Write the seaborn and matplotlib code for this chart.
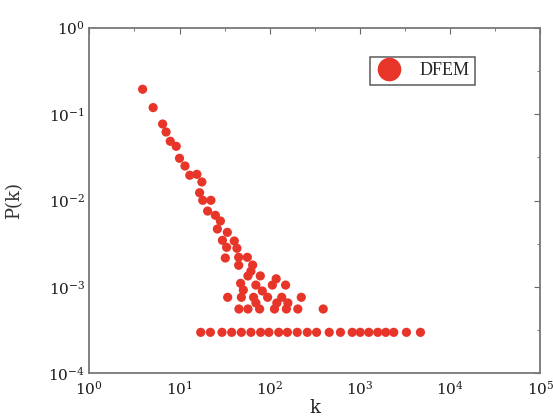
import numpy as np
import pandas as pd
import matplotlib
matplotlib.use("Agg")
import matplotlib.pyplot as plt
import matplotlib.ticker as mticker
import seaborn as sns

# degree k and probability P(k)
k_main = [3.9, 5.1, 6.5, 7.1, 7.9, 9.2, 10.0, 11.5, 13.0, 15.6, 17.7, 16.7,
          18.1, 22.3, 20.5, 25.0, 28.4, 26.3, 33.9, 29.9, 40.5, 33.3, 43.3,
          32.2, 45.3, 56.5, 45.3, 64.7, 61.9, 57.4, 78.7, 118, 47.6, 70.3,
          107, 150, 51.0, 82.8]
p_main = [0.194, 0.119, 0.0768, 0.0621, 0.0485, 0.0424, 0.0308, 0.0251,
          0.0196, 0.0201, 0.0164, 0.0123, 0.01005, 0.01005, 0.00755, 0.00674,
          0.00579, 0.00468, 0.00428, 0.00346, 0.00340, 0.00287, 0.00280,
          0.00216, 0.00220, 0.00220, 0.00178, 0.00179, 0.00152, 0.00134,
          0.00134, 0.00124, 0.00110, 0.00105, 0.00105, 0.00105, 0.00092,
          0.000897]
k_row3 = [34.2, 48.5, 66.3, 94.8, 136, 224]
p_row3 = [0.000758] * 6
k_row2b = [70.3, 120, 159]
p_row2b = [0.000652] * 3
k_row2 = [45.6, 57.4, 77.3, 113, 153, 205, 392]
p_row2 = [0.000555] * 7
k_row1 = [17.2, 22.0, 29.6, 37.9, 48.5, 61.9, 79.3, 98.0, 126, 157, 202,
          261, 331, 457, 609, 822, 1008, 1256, 1578, 1936, 2373, 3281, 4690]
p_row1 = [0.000298] * 23

x_ticks = [1, 10, 100, 1e3, 1e4, 1e5]
y_ticks = [1e-4, 1e-3, 1e-2, 1e-1, 1]

df = pd.DataFrame({
    "k": k_main + k_row3 + k_row2b + k_row2 + k_row1,
    "P": p_main + p_row3 + p_row2b + p_row2 + p_row1,
})
df["series"] = "DFEM"

sns.set_style("white")
plt.rcParams["font.family"] = ["DejaVu Serif"]
plt.rcParams["mathtext.fontset"] = "dejavuserif"

fig = plt.figure(figsize=(5.53, 4.20), dpi=100)
ax = fig.add_axes([0.1615, 0.1112, 0.8155, 0.8228])

red = "#e8352a"
sns.scatterplot(data=df, x="k", y="P", hue="series", palette=[red],
                s=44, edgecolor="none", ax=ax, legend=False)

ax.set_xscale("log")
ax.set_yscale("log")
ax.set_xlim(x_ticks[0], x_ticks[-1])
ax.set_ylim(y_ticks[0], y_ticks[-1])

ax.xaxis.set_major_locator(mticker.FixedLocator(x_ticks))
ax.yaxis.set_major_locator(mticker.FixedLocator(y_ticks))
ax.xaxis.set_minor_locator(mticker.FixedLocator([t * 10 ** 0.5 for t in x_ticks[:-1]]))
ax.yaxis.set_minor_locator(mticker.FixedLocator([t * 10 ** 0.5 for t in y_ticks[:-1]]))
ax.xaxis.set_minor_formatter(mticker.NullFormatter())
ax.yaxis.set_minor_formatter(mticker.NullFormatter())
ax.xaxis.set_major_formatter(mticker.LogFormatterMathtext())
ax.yaxis.set_major_formatter(mticker.LogFormatterMathtext())

ax.tick_params(which="both", direction="in", top=True, right=True,
               color="#666666", labelsize=11, labelcolor="#1a1a1a")
ax.tick_params(which="major", length=4, width=0.8)
ax.tick_params(which="minor", length=2.5, width=0.6)
ax.tick_params(axis="x", pad=5)
ax.tick_params(axis="y", pad=3)
for sp in ax.spines.values():
    sp.set_color("#777777")
    sp.set_linewidth(1.3)

ax.set_xlabel("k", fontsize=13, color="#222222")
ax.xaxis.set_label_coords(0.5, -0.075)
ax.set_ylabel("P(k)", fontsize=13, color="#333333")
ax.yaxis.set_label_coords(-0.147, 0.5)

handle = plt.Line2D([], [], marker="o", linestyle="none", markersize=17,
                    markerfacecolor=red, markeredgecolor="none")
leg = ax.legend([handle], ["DFEM"], loc="upper left",
                bbox_to_anchor=(0.6224, 0.9152), borderaxespad=0,
                frameon=True, fancybox=False,
                prop={"family": "Liberation Serif", "size": 13},
                handletextpad=0.95, borderpad=0.3, handlelength=1.48)
leg.get_frame().set_edgecolor("#333333")
leg.get_frame().set_linewidth(1.1)

fig.savefig("out.png", dpi=100)
